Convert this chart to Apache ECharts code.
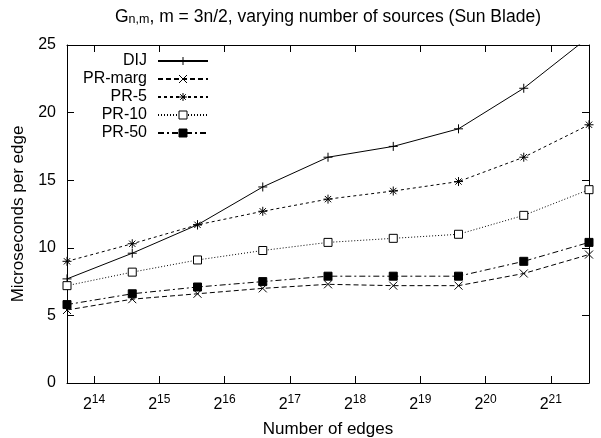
<!DOCTYPE html>
<html>
<head>
<meta charset="utf-8">
<script src="https://cdn.jsdelivr.net/npm/echarts@6/dist/echarts.min.js"></script>
<style>
  html, body { margin: 0; padding: 0; background: #fff; }
  #chart { width: 601px; height: 438px; }
</style>
</head>
<body>
<div id="chart"></div>
<script>
// number of edges (m = 3n/2, n = 2^13 .. 2^21)
const edges = [12288, 24576, 49152, 98304, 196608, 393216, 786432, 1572864, 3145728];
const edgeTicks = [16384, 32768, 65536, 131072, 262144, 524288, 1048576, 2097152];

// microseconds per edge
const dij = [7.7, 9.6, 11.7, 14.5, 16.7, 17.5, 18.8, 21.8, 25.6];
const prMarg = [5.4, 6.2, 6.6, 7.0, 7.3, 7.2, 7.2, 8.1, 9.5];
const pr5 = [9.0, 10.3, 11.7, 12.7, 13.6, 14.2, 14.9, 16.7, 19.1];
const pr10 = [7.2, 8.2, 9.1, 9.8, 10.4, 10.7, 11.0, 12.4, 14.3];
const pr50 = [5.8, 6.6, 7.1, 7.5, 7.9, 7.9, 7.9, 9.0, 10.4];

const font = "'Liberation Sans', Arial, sans-serif";

function pairs(values) {
  return values.map((v, i) => [edges[i], v]);
}

function makeSeries(name, values, symbol, symbolSize, dash, fill) {
  return {
    name: name,
    type: "line",
    data: pairs(values),
    symbol: symbol,
    symbolSize: symbolSize,
    showAllSymbol: true,
    clip: true,
    lineStyle: { color: "#000", width: 1, type: dash },
    itemStyle: {
      color: fill,
      borderColor: "#000",
      borderWidth: 1,
      borderType: "solid",
    },
    emphasis: { disabled: true },
  };
}

// gnuplot style box: every side drawn, ticks pointing inwards
function axisLine() {
  return { show: true, onZero: false, lineStyle: { color: "#000", width: 1 } };
}
function tick(custom) {
  const t = { show: true, inside: true, length: 7, lineStyle: { color: "#000", width: 1 } };
  if (custom) t.customValues = custom;
  return t;
}

const chart = echarts.init(document.getElementById("chart"), null, { renderer: "canvas" });

const option = {
  animation: false,
  backgroundColor: "#fff",
  textStyle: { fontFamily: font, color: "#000" },
  title: {
    text: "{a|G}{s|n,m}{a|, m = 3n/2, varying number of sources (Sun Blade)}",
    left: 115,
    top: 10,
    padding: 0,
    textStyle: {
      fontWeight: "normal",
      rich: {
        a: { fontFamily: font, fontSize: 17.5, fontWeight: "normal", color: "#000", lineHeight: 20, padding: [0, 0, 5, 0] },
        s: { fontFamily: font, fontSize: 12.5, fontWeight: "normal", color: "#000", lineHeight: 14 },
      },
    },
  },
  legend: {
    orient: "vertical",
    align: "right",
    right: 392,
    top: 53,
    padding: 0,
    itemWidth: 50,
    itemHeight: 10,
    itemGap: 2,
    selectedMode: false,
    data: ["DIJ", "PR-marg", "PR-5", "PR-10", "PR-50"],
    itemStyle: { borderType: "solid", borderWidth: 1, borderColor: "#000" },
    textStyle: {
      fontFamily: font,
      fontSize: 16,
      color: "#000",
      width: 80,
      padding: [0, 6, 0, 0],
    },
  },
  grid: {
    left: 67,
    right: 12,
    top: 45,
    bottom: 55,
    containLabel: false,
    outerBoundsMode: "none",
  },
  xAxis: [
    {
      type: "log",
      logBase: 2,
      min: edges[0],
      max: edges[edges.length - 1],
      position: "bottom",
      axisLine: axisLine(),
      splitLine: { show: false },
      axisTick: tick(edgeTicks),
      axisLabel: {
        customValues: edgeTicks,
        margin: 14,
        formatter: (v) => "{b|2}{s|" + Math.round(Math.log2(v)) + "}",
        rich: {
          b: { fontFamily: font, fontSize: 16, lineHeight: 16, color: "#000" },
          s: { fontFamily: font, fontSize: 12, lineHeight: 12, color: "#000", padding: [0, 0, 10, 0] },
        },
      },
      name: "Number of edges",
      nameLocation: "middle",
      nameGap: 38,
      nameTextStyle: { fontFamily: font, fontSize: 17, color: "#000" },
    },
    {
      type: "log",
      logBase: 2,
      min: edges[0],
      max: edges[edges.length - 1],
      position: "top",
      axisLine: axisLine(),
      splitLine: { show: false },
      axisTick: tick(edgeTicks),
      axisLabel: { show: false, customValues: edgeTicks },
    },
  ],
  yAxis: [
    {
      type: "value",
      min: 0,
      max: 25,
      interval: 5,
      position: "left",
      axisLine: axisLine(),
      splitLine: { show: false },
      axisTick: tick(),
      axisLabel: { margin: 11, fontFamily: font, fontSize: 16, color: "#000" },
      name: "Microseconds per edge",
      nameLocation: "middle",
      nameGap: 40,
      nameTextStyle: { fontFamily: font, fontSize: 17, color: "#000" },
    },
    {
      type: "value",
      min: 0,
      max: 25,
      interval: 5,
      position: "right",
      axisLine: axisLine(),
      splitLine: { show: false },
      axisTick: tick(),
      axisLabel: { show: false },
    },
  ],
  series: [
    makeSeries("DIJ", dij, "path://M0,5L10,5M5,0L5,10", 9, "solid", "#000"),
    makeSeries("PR-marg", prMarg, "path://M0,0L10,10M0,10L10,0", 8, [5, 3], "#000"),
    makeSeries("PR-5", pr5, "path://M0,5L10,5M5,0L5,10M1.5,1.5L8.5,8.5M1.5,8.5L8.5,1.5", 9, [3, 3], "#000"),
    makeSeries("PR-10", pr10, "path://M0,0L10,0L10,10L0,10Z", 8, [1, 2], "#fff"),
    makeSeries("PR-50", pr50, "rect", 8, [6, 3, 2, 3], "#000"),
  ],
};

chart.setOption(option);
</script>
</body>
</html>
